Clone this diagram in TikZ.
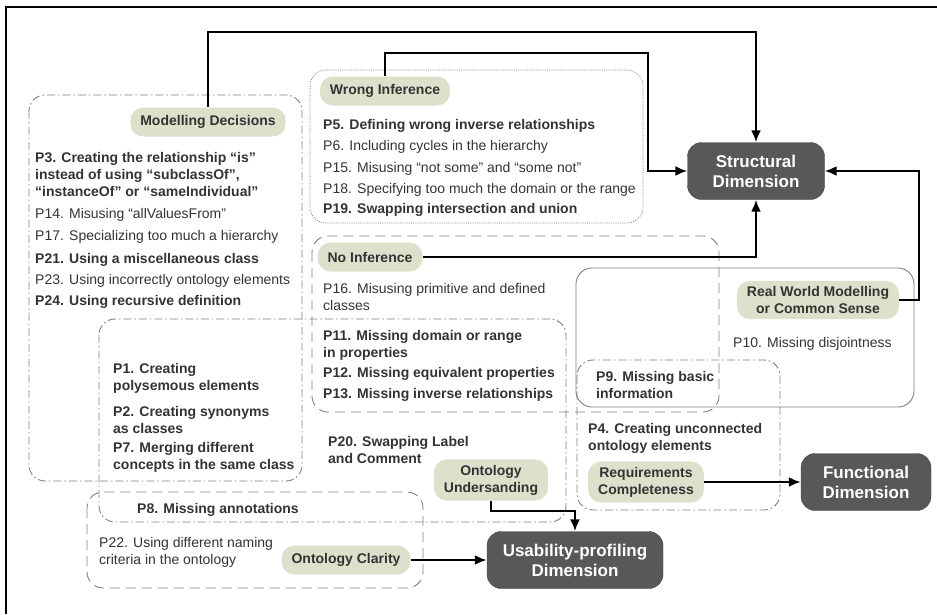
\documentclass[tikz,border=0pt]{standalone}
\usepackage{fontspec}
\setmainfont{Liberation Sans}
\usetikzlibrary{arrows.meta}
\definecolor{sage}{HTML}{DCE1CC}
\definecolor{slate}{HTML}{585858}
\definecolor{ink}{HTML}{333333}
\definecolor{rim}{HTML}{808080}

\begin{document}
\begin{tikzpicture}[x=1pt,y=-1pt,
  pit/.style={anchor=base west, inner sep=0pt, align=left, text=ink, font=\fontsize{14}{17}\selectfont},
  pitb/.style={pit, font=\fontsize{14}{17}\selectfont\bfseries},
  grp/.style={fill=sage, rounded corners=13pt, inner xsep=10pt, inner ysep=5.5pt, minimum height=29pt, align=center, text=ink, font=\fontsize{14}{17}\selectfont\bfseries},
  dim/.style={fill=slate, draw=slate!80!black, rounded corners=14pt, minimum height=57pt, align=center, text=white, font=\fontsize{17}{20}\selectfont\bfseries},
  reg/.style={draw=rim, line width=0.9pt, rounded corners=16pt},
  dashdot/.style={reg, dash pattern=on 8pt off 3pt on 1.5pt off 3pt},
  longdash/.style={reg, dash pattern=on 10pt off 6pt},
  fine/.style={reg, line width=0.7pt, dash pattern=on 1pt off 1.2pt},
  link/.style={line width=2.8pt, -{Latex[length=12pt,width=10pt]}}]
\useasboundingbox (0,0) rectangle (937,614);
% frame
\draw[line width=2.2pt] (6,614) -- (6,7) -- (937,7);
% regions
\draw[dashdot] (29,95) rectangle (302,481);
\draw[fine] (310,70) rectangle (643,223);
\draw[longdash] (312,236) rectangle (719,412);
\draw[dashdot] (99,319) rectangle (566,522);
\draw[longdash] (87,492) rectangle (423,588);
\draw[reg] (576,268) rectangle (914,407);
\draw[dashdot] (577,360) rectangle (780,510);
% dimensions
\node[dim, minimum width=137pt] (sd) at (756,171) {Structural\\Dimension};
\node[dim, minimum width=130pt] (fd) at (866,482) {Functional\\Dimension};
\node[dim, minimum width=176pt] (ud) at (575,560) {Usability-profiling\\Dimension};
% groups
\node[grp] (md) at (208,122) {Modelling Decisions};
\node[grp] (wi) at (385,91) {Wrong Inference};
\node[grp] (ni) at (370,257) {No Inference};
\node[grp] (rw) at (818,300) {Real World Modelling\\or Common Sense};
\node[grp] (ou) at (491,480) {Ontology\\Undersanding};
\node[grp] (oc) at (346,560) {Ontology Clarity};
\node[grp] (rc) at (646,482) {Requirements\\Completeness};
% pitfalls (y = baseline of last line)
\foreach \n/\y/\s/\t in {p3/196/pitb/{P3. Creating the relationship “is”\\instead of using “subclassOf”,\\“instanceOf” or “sameIndividual”},
    p14/218/pit/{P14. Misusing “allValuesFrom”},
    p17/240/pit/{P17. Specializing too much a hierarchy},
    p21/263/pitb/{P21. Using a miscellaneous class},
    p23/284/pit/{P23. Using incorrectly ontology elements},
    p24/305/pitb/{P24. Using recursive definition}}
  \node[\s] (\n) at (35,\y) {\t};
\foreach \n/\y/\s/\t in {p5/129/pitb/{P5. Defining wrong inverse relationships},
    p6/150/pit/{P6. Including cycles in the hierarchy},
    p15/172/pit/{P15. Misusing “not some” and “some not”},
    p18/193/pit/{P18. Specifying too much the domain or the range},
    p19/213/pitb/{P19. Swapping intersection and union}}
  \node[\s] (\n) at (323,\y) {\t};
\foreach \n/\y/\s/\t in {p16/310/pit/{P16. Misusing primitive and defined\\classes},
    p11/357/pitb/{P11. Missing domain or range\\in properties},
    p12/377/pitb/{P12. Missing equivalent properties},
    p13/398/pitb/{P13. Missing inverse relationships}}
  \node[\s] (\n) at (323,\y) {\t};
\foreach \n/\y/\t in {p1/390/{P1. Creating\\polysemous elements},
    p2/433/{P2. Creating synonyms\\as classes},
    p7/469/{P7. Merging different\\concepts in the same class}}
  \node[pitb] (\n) at (113,\y) {\t};
\node[pitb] (p20) at (328,463) {P20. Swapping Label\\and Comment};
\node[pitb] (p8) at (137,513) {P8. Missing annotations};
\node[pit] (p22) at (99,564) {P22. Using different naming\\criteria in the ontology};
\node[pit] (p10) at (733,347) {P10. Missing disjointness};
\node[pitb] (p9) at (596,398) {P9. Missing basic\\information};
\node[pitb] (p4) at (588,450) {P4. Creating unconnected\\ontology elements};
% links
\coordinate (mdtop) at (756,32);
\draw[link] (md.north) |- (mdtop) -- (sd.north);
\coordinate (witop) at (648,53);
\draw[link] (wi.north) |- (witop) |- (sd.west);
\draw[link] (ni.east) -| (sd.south);
\coordinate (rwside) at (919,171);
\draw[link] (rw.east) -| (rwside) -- (sd.east);
\draw[link] (rc.east) -- (fd.west);
\draw[link] (oc.east) -- (ud.west);
\coordinate (oulow) at (575,511);
\draw[link] (ou.south) |- (oulow) -- (ud.north);
\end{tikzpicture}
\end{document}
